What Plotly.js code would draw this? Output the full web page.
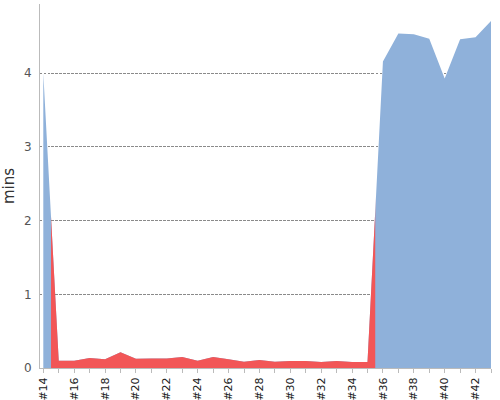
<!DOCTYPE html>
<html>
<head>
<meta charset="utf-8">
<script src="https://cdn.plot.ly/plotly-3.0.1.min.js"></script>
<style>html,body{margin:0;padding:0;background:#fff;}#chart{width:500px;height:400px;}</style>
</head>
<body>
<div id="chart"></div>
<script>
// Build numbers (x) and duration in minutes
var builds = [14,15,16,17,18,19,20,21,22,23,24,25,26,27,28,29,30,31,32,33,34,35,36,37,38,39,40,41,42,43];
var mins = [4.0,0.1,0.1,0.135,0.12,0.215,0.125,0.13,0.13,0.15,0.1,0.15,0.12,0.085,0.11,0.085,0.095,0.095,0.08,0.095,0.08,0.08,4.16,4.54,4.53,4.47,3.93,4.46,4.49,4.71];
// Builds coloured red (zone between half-category boundaries)
var redZone = [14.5, 35.5];
var tickLabels = builds.map(function(b, i){ return i % 2 === 0 ? '#' + b : ''; });

var xRange = [13.786, 43];
function frac(v){ return (v - xRange[0]) / (xRange[1] - xRange[0]); }

var blue = {
  x: builds, y: mins, type: 'scatter', mode: 'none', fill: 'tozeroy',
  fillcolor: '#8fb1da', xaxis: 'x', yaxis: 'y', hoverinfo: 'skip'
};
var red = {
  x: builds, y: mins, type: 'scatter', mode: 'none', fill: 'tozeroy',
  fillcolor: '#f25657', xaxis: 'x2', yaxis: 'y', hoverinfo: 'skip'
};

var layout = {
  width: 500, height: 400,
  margin: {l: 40, r: 9, t: 4, b: 32},
  paper_bgcolor: '#ffffff', plot_bgcolor: 'rgba(0,0,0,0)',
  showlegend: false,
  font: {family: 'DejaVu Sans', color: '#444'},
  xaxis: {
    domain: [0, 1], range: xRange, anchor: 'y',
    tickmode: 'array', tickvals: builds, ticktext: tickLabels,
    tickangle: -90, ticks: 'outside', ticklen: 4, tickcolor: '#bbb',
    tickfont: {size: 11, color: '#222'},
    showline: true, linecolor: '#bbb', linewidth: 1,
    showgrid: false, zeroline: false
  },
  xaxis2: {
    domain: [frac(redZone[0]), frac(redZone[1])], range: redZone, anchor: 'y',
    visible: false, showgrid: false, zeroline: false
  },
  yaxis: {
    range: [0, 4.94], anchor: 'x',
    tickvals: [0,1,2,3,4], ticks: '', ticklabelstandoff: 5,
    tickfont: {size: 12, color: '#555'},
    showline: true, linecolor: '#bbb', linewidth: 1,
    showgrid: true, gridcolor: '#8a8a8a', griddash: '2px,2px', gridwidth: 1,
    zeroline: false,
    title: {text: 'mins', font: {size: 15, color: '#333'}, standoff: 5}
  }
};

Plotly.newPlot('chart', [blue, red], layout, {staticPlot: true});
</script>
</body>
</html>
